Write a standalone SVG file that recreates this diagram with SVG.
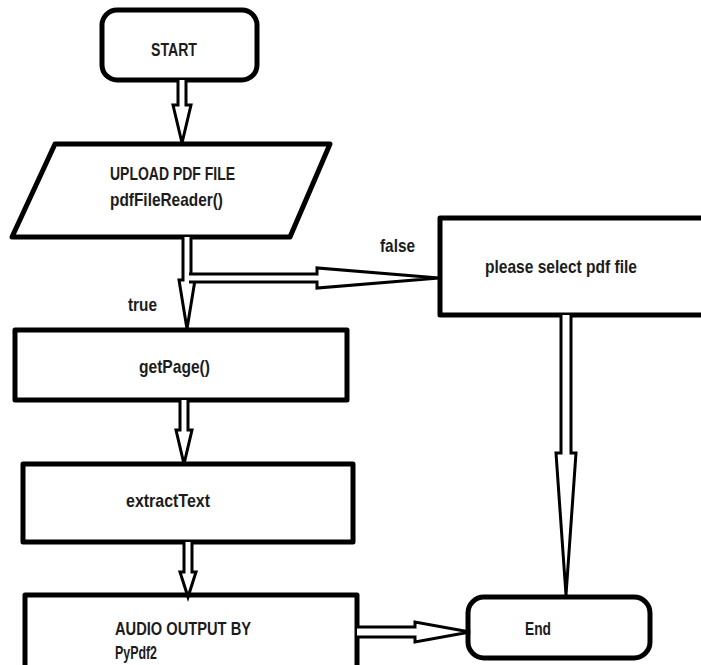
<svg xmlns="http://www.w3.org/2000/svg" width="701" height="665" viewBox="0 0 701 665">
  <style>
    .box { fill: #ffffff; stroke: #000000; stroke-width: 5; stroke-linejoin: round; }
    .arrow { fill: #ffffff; stroke: #000000; stroke-width: 3; stroke-linejoin: miter; }
    .lbl { font-family: "Liberation Sans Narrow", "Liberation Sans", Arial, sans-serif; font-weight: bold; font-size: 19px; fill: #1c1c1c; }
  </style>
  <rect width="701" height="665" fill="#ffffff"/>

  <g id="start">
    <rect class="box" x="102" y="10" width="155" height="70" rx="15" ry="15"/>
    <text class="lbl" x="151" y="56" textLength="46" lengthAdjust="spacingAndGlyphs">START</text>
  </g>

  <g id="upload">
    <polygon class="box" points="55,144 330,144 290,237 12,237"/>
    <text class="lbl" x="110" y="180" textLength="125" lengthAdjust="spacingAndGlyphs">UPLOAD PDF FILE</text>
    <text class="lbl" x="110" y="206" textLength="113" lengthAdjust="spacingAndGlyphs">pdfFileReader()</text>
  </g>

  <g id="select">
    <rect class="box" x="440" y="218" width="268" height="97"/>
    <text class="lbl" x="485" y="273" textLength="152" lengthAdjust="spacingAndGlyphs">please select pdf file</text>
  </g>

  <g id="getpage">
    <rect class="box" x="15" y="330" width="332" height="70"/>
    <text class="lbl" x="139" y="373" textLength="71" lengthAdjust="spacingAndGlyphs">getPage()</text>
  </g>

  <g id="extract">
    <rect class="box" x="23" y="464" width="330" height="78"/>
    <text class="lbl" x="126" y="507" textLength="84" lengthAdjust="spacingAndGlyphs">extractText</text>
  </g>

  <g id="audio">
    <rect class="box" x="25" y="595" width="332" height="75"/>
    <text class="lbl" x="115" y="635" textLength="136" lengthAdjust="spacingAndGlyphs">AUDIO OUTPUT BY</text>
    <text class="lbl" x="115" y="659" textLength="42" lengthAdjust="spacingAndGlyphs">PyPdf2</text>
  </g>

  <g id="end">
    <rect class="box" x="468" y="597" width="182" height="61" rx="16" ry="16"/>
    <text class="lbl" x="525" y="635" textLength="26" lengthAdjust="spacingAndGlyphs">End</text>
  </g>

  <g id="connectors">
    <path class="arrow" d="M178,80 V105 H173 L182,143 L191,105 H186 V80"/>
    <path class="arrow" d="M183,237 V280 H179 L187,329 L195,280 H191 V237"/>
    <path class="arrow" d="M189,274 H317 V268 L439,278 L317,288 V282 H189"/>
    <path class="arrow" d="M180,400 V430 H176 L184,464 L192,430 H188 V400"/>
    <path class="arrow" d="M184,542 V572 H180 L188,597 L196,572 H192 V542"/>
    <path class="arrow" d="M561,315 V453 H556 L566,595 L576,453 H571 V315"/>
    <path class="arrow" d="M357,627 H415 V622 L470,632 L415,642 V637 H357"/>
    <text class="lbl" x="380" y="252" textLength="35" lengthAdjust="spacingAndGlyphs">false</text>
    <text class="lbl" x="128" y="311" textLength="29" lengthAdjust="spacingAndGlyphs">true</text>
  </g>
</svg>
